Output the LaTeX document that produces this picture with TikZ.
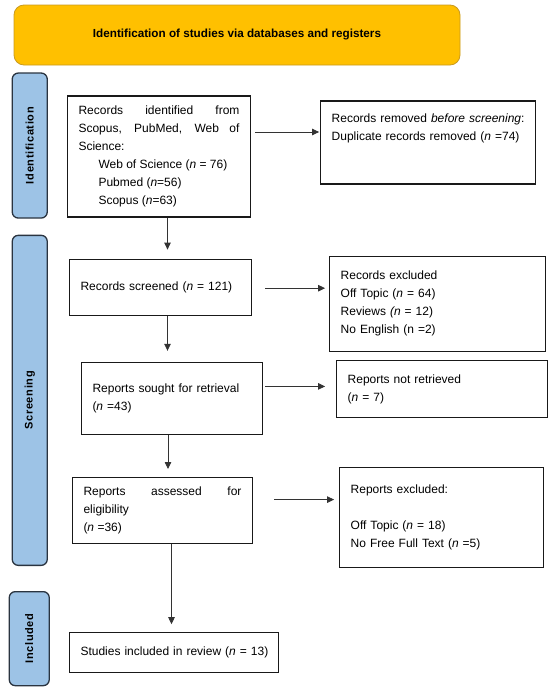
\documentclass[tikz,border=0pt]{standalone}
\usepackage{fontspec}
\setmainfont{Liberation Sans}
\usepackage{graphicx}
\usepackage{xcolor}
\usepackage{tikz}
\usetikzlibrary{arrows.meta, positioning}
\definecolor{bannergold}{HTML}{FFC000}
\definecolor{bannerline}{HTML}{C99A1E}
\definecolor{phaseblue}{HTML}{9DC3E6}
\definecolor{phaseline}{HTML}{2A3440}
\setlength{\parindent}{0pt}

\begin{document}
\begin{tikzpicture}[
  x=1pt, y=1pt,
  banner/.style={rectangle, rounded corners=10pt, draw=bannerline, line width=0.8pt, fill=bannergold,
              minimum width=446pt, minimum height=60pt, font=\fontsize{11.7}{14}\selectfont\bfseries},
  phase/.style={rectangle, rounded corners=6pt, draw=phaseline, line width=1.3pt, fill=phaseblue,
              minimum width=35pt, inner sep=0pt, font=\fontsize{11}{13}\selectfont\bfseries\addfontfeature{LetterSpace=6}},
  box/.style={rectangle, draw=black!90, line width=1.2pt, fill=white, align=left,
              inner xsep=11pt, inner ysep=4pt, font=\fontsize{12}{18}\selectfont},
  jbox/.style={box, align=justify},
  arrow/.style={-{Triangle[length=7pt, width=6.5pt]}, line width=0.8pt, draw=black!80}
]

\useasboundingbox (0,0) rectangle (550,-688);

\node[banner] (title) at (237,-35) {Identification of studies via databases and registers};

\node[phase, minimum height=145pt, below right=7pt and -2pt of title.south west] (idlab) {\rotatebox{90}{Identification}};
\node[phase, minimum height=330pt, below right=16pt and 0pt of idlab.south west] (scrlab) {\rotatebox{90}{Screening}};
\node[phase, minimum width=40pt, minimum height=94pt, below right=25pt and -3pt of scrlab.south west] (inclab) {\rotatebox{90}{Included}};

\node[jbox, text width=161pt, minimum height=121pt, below right=23pt and 19pt of idlab.north east] (found) {Records identified from\linebreak Scopus, PubMed, Web of\linebreak Science:\\ \hspace*{20pt}Web of Science (\textit{n} = 76)\\ \hspace*{20pt}Pubmed (\textit{n}=56)\\ \hspace*{20pt}Scopus (\textit{n}=63)};
\node[box, text width=193pt, minimum height=83pt, below right=5pt and 69pt of found.north east] (dupes) {Records removed \textit{before screening}:\\Duplicate records removed (\textit{n} =74)\\[12pt]\mbox{}};
\node[box, text width=160pt, minimum height=56pt, below right=41pt and 2pt of found.south west] (screened) {Records screened (\textit{n} = 121)};
\node[box, text width=194pt, minimum height=95pt, below right=71pt and 9pt of dupes.south west] (excl) {Records excluded\\Off Topic (\textit{n} = 64)\\Reviews \textit{(n} = 12)\\No English (n =2)};
\node[box, text width=159pt, minimum height=72pt, below right=46pt and 12pt of screened.south west] (sought) {Reports sought for retrieval\\(\textit{n} =43)};
\node[box, text width=189pt, minimum height=57pt, below right=8pt and 7pt of excl.south west] (notret) {Reports not retrieved\\(\textit{n} = 7)};
\node[jbox, text width=158pt, minimum height=66pt, below right=42pt and -9pt of sought.south west] (assessed) {Reports assessed for\linebreak eligibility\\(\textit{n} =36)};
\node[box, text width=182pt, minimum height=100pt, below right=49pt and 3pt of notret.south west] (rexcl) {Reports excluded:\\[18pt]Off Topic (\textit{n} = 18)\\No Free Full Text (\textit{n} =5)};
\node[box, text width=187pt, minimum height=40pt, below right=88pt and -3pt of assessed.south west] (incl) {\mbox{Studies included in review (\textit{n} = 13)}};

\draw[arrow, shorten >=9pt] ([xshift=8.5pt]found.south) -- ([xshift=8.5pt]found.south |- screened.north);
\draw[arrow, shorten >=11pt] ([xshift=7pt]screened.south) -- ([xshift=7pt]screened.south |- sought.north);
\draw[arrow, shorten >=8pt] ([xshift=-4pt]sought.south) -- ([xshift=-4pt]sought.south |- assessed.north);
\draw[arrow, shorten >=8pt] ([xshift=9pt]assessed.south) -- ([xshift=9pt]assessed.south |- incl.north);

\draw[arrow, shorten <=4pt, shorten >=1pt] ([yshift=24.5pt]found.east) -- ([yshift=24.5pt]found.east -| dupes.west);
\draw[arrow, shorten <=13pt, shorten >=4pt] ([yshift=-1pt]screened.east) -- ([yshift=-1pt]screened.east -| excl.west);
\draw[arrow, shorten <=2pt, shorten >=11pt] ([yshift=12pt]sought.east) -- ([yshift=12pt]sought.east -| notret.west);
\draw[arrow, shorten <=21pt, shorten >=5pt] ([yshift=11pt]assessed.east) -- ([yshift=11pt]assessed.east -| rexcl.west);

\end{tikzpicture}
\end{document}
